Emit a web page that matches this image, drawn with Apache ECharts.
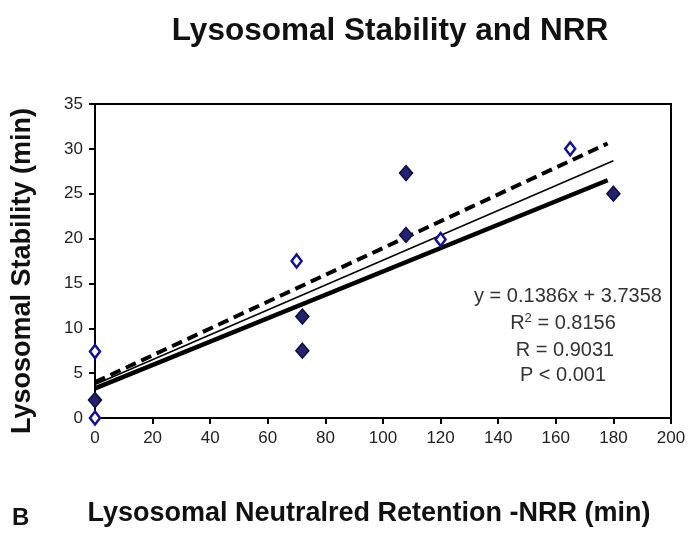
<!DOCTYPE html>
<html><head><meta charset="utf-8">
<script src="https://cdn.jsdelivr.net/npm/echarts@6/dist/echarts.min.js"></script>
<style>html,body{margin:0;padding:0;background:#fff}#c{width:694px;height:533px}</style>
</head><body><div id="c"></div>
<script>
// Data
const filledPoints = [[0,2],[72,11.3],[72,7.5],[108,27.3],[108,20.4],[180,25]];
const openPoints = [[0,7.4],[0,0],[70,17.5],[120,19.9],[165,30]];
const fitThin = [[0,3.7358],[180,28.68]];
const fitDashed = [[0,4.0],[178,30.6]];
const fitThick = [[0,3.3],[178,26.5]];
const xTicks = [0,20,40,60,80,100,120,140,160,180,200];
const yTicks = [0,5,10,15,20,25,30,35];
const annotLines = ['y = 0.1386x + 3.7358','R{sup|2} = 0.8156','R = 0.9031','P < 0.001'];

const FONT = 'Liberation Sans, Arial, sans-serif';
const chart = echarts.init(document.getElementById('c'));
const diamond = 'path://M0,-10 L7,0 L0,10 L-7,0 Z';
const annotStyle = {font:'20px '+FONT,fill:'#333',align:'center',verticalAlign:'middle'};
chart.setOption({
  animation:false,
  title:{text:'Lysosomal Stability and NRR',left:385,top:10,textAlign:'center',
    textStyle:{fontFamily:FONT,fontWeight:'bold',fontSize:31.5,color:'#111'}},
  grid:{left:95,right:23,top:104,bottom:115},
  xAxis:{type:'value',min:0,max:200,interval:20,
    name:'Lysosomal Neutralred Retention -NRR (min)',nameLocation:'middle',nameGap:82,
    nameTextStyle:{fontFamily:FONT,fontWeight:'bold',fontSize:27,color:'#111',padding:[0,28,0,0]},
    axisLine:{show:true,lineStyle:{color:'#000',width:2}},
    axisTick:{show:true,length:6,lineStyle:{color:'#000',width:2}},
    axisLabel:{fontFamily:FONT,fontSize:17,color:'#222',margin:12},
    splitLine:{show:false}},
  yAxis:{type:'value',min:0,max:35,interval:5,
    axisLine:{show:true,lineStyle:{color:'#000',width:2}},
    axisTick:{show:true,length:6,lineStyle:{color:'#000',width:2}},
    axisLabel:{fontFamily:FONT,fontSize:17,color:'#222',margin:12},
    splitLine:{show:false}},
  graphic:[
    {type:'rect',shape:{x:95,y:104,width:576,height:314},style:{fill:'none',stroke:'#000',lineWidth:2},z:-1},
    {type:'text',x:23,y:271,rotation:Math.PI/2,style:{text:'Lysosomal Stability (min)',font:'bold 27px '+FONT,fill:'#111',align:'center',verticalAlign:'middle'}},
    {type:'text',left:12,top:506,style:{text:'B',font:'bold 24px '+FONT,fill:'#111'}},
    {type:'text',x:568,y:296,style:Object.assign({text:annotLines[0]},annotStyle)},
    {type:'text',x:563,y:323,style:Object.assign({text:annotLines[1],
      rich:{sup:{fontSize:13,verticalAlign:'top',padding:[0,0,10,0],fill:'#333',fontFamily:FONT}}},annotStyle)},
    {type:'text',x:565,y:350,style:Object.assign({text:annotLines[2]},annotStyle)},
    {type:'text',x:563,y:375,style:Object.assign({text:annotLines[3]},annotStyle)}
  ],
  series:[
    {type:'line',data:fitDashed,symbol:'none',lineStyle:{color:'#000',width:4,type:[11,6]},z:2},
    {type:'line',data:fitThin,symbol:'none',lineStyle:{color:'#000',width:1.5},z:2},
    {type:'line',data:fitThick,symbol:'none',lineStyle:{color:'#000',width:4.5},z:2},
    {type:'scatter',data:filledPoints,symbol:diamond,symbolSize:[13,15],
      itemStyle:{color:'#22226e',borderColor:'#0d0d40',borderWidth:1.5,opacity:1},z:5},
    {type:'scatter',data:openPoints,symbol:diamond,symbolSize:[10,13],
      itemStyle:{color:'#fff',borderColor:'#10109a',borderWidth:2.5,opacity:1},z:5}
  ]
});
</script></body></html>
